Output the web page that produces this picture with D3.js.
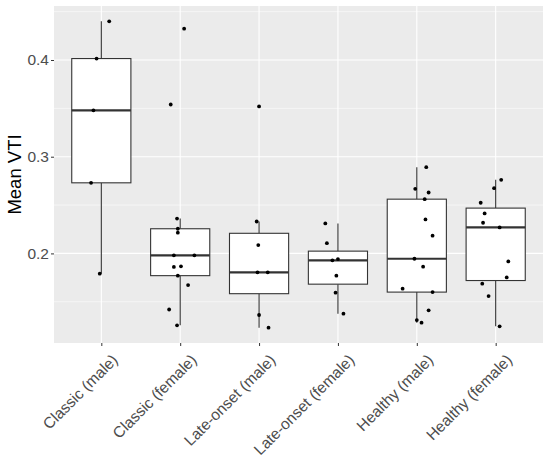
<!DOCTYPE html>
<html>
<head>
<meta charset="utf-8">
<script src="https://cdn.jsdelivr.net/npm/d3@7"></script>
<style>
  body { margin: 0; background: #fff; }
  svg { font-family: "Liberation Sans", Arial, sans-serif; }
</style>
</head>
<body>
<svg id="chart" width="550" height="459"></svg>
<script>
const categories = [
  "Classic (male)",
  "Classic (female)",
  "Late-onset (male)",
  "Late-onset (female)",
  "Healthy (male)",
  "Healthy (female)",
];

// mean VTI per subject
const classicMale = [0.44, 0.4015, 0.348, 0.273, 0.179];
const classicFemale = [0.4324, 0.354, 0.236, 0.2255, 0.2214, 0.198, 0.198, 0.186, 0.1866, 0.177, 0.1673, 0.142, 0.1256];
const lateMale = [0.352, 0.233, 0.2086, 0.1804, 0.1804, 0.1363, 0.1232];
const lateFemale = [0.231, 0.2106, 0.1928, 0.1941, 0.177, 0.1594, 0.1377];
const healthyMale = [0.2892, 0.2668, 0.263, 0.2561, 0.2351, 0.2183, 0.1945, 0.1863, 0.1635, 0.16, 0.1411, 0.1311, 0.1284];
const healthyFemale = [0.2761, 0.2675, 0.2524, 0.2413, 0.2317, 0.2269, 0.1917, 0.1752, 0.1687, 0.1559, 0.1246];

// horizontal jitter of each point (category units)
const jitterClassicMale = [0.1, -0.06, -0.1, -0.13, -0.02];
const jitterClassicFemale = [0.05, -0.12, -0.04, -0.03, -0.03, -0.08, 0.18, -0.08, 0.01, -0.03, 0.1, -0.14, -0.04];
const jitterLateMale = [0.0, -0.03, -0.01, -0.02, 0.11, 0.0, 0.12];
const jitterLateFemale = [-0.16, -0.14, -0.07, 0.0, -0.02, -0.03, 0.07];
const jitterHealthyMale = [0.12, -0.02, 0.15, 0.1, 0.11, 0.2, -0.03, 0.08, -0.18, 0.2, 0.15, 0.0, 0.06];
const jitterHealthyFemale = [0.07, -0.02, -0.19, -0.14, -0.16, 0.05, 0.16, 0.14, -0.17, -0.09, 0.05];

const yTicks = [0.2, 0.3, 0.4];
const yMinor = [0.15, 0.25, 0.35, 0.45];

const values = [classicMale, classicFemale, lateMale, lateFemale, healthyMale, healthyFemale];
const jitters = [jitterClassicMale, jitterClassicFemale, jitterLateMale, jitterLateFemale, jitterHealthyMale, jitterHealthyFemale];

const panel = { left: 54, right: 543, top: 6, bottom: 343 };
const $svg = d3.select("#chart");

// ggplot style expansion: 5% continuous, 0.6 discrete
const all = values.flat();
const ext = d3.extent(all);
const pad = (ext[1] - ext[0]) * 0.05;
const y = d3.scaleLinear().domain([ext[0] - pad, ext[1] + pad]).range([panel.bottom, panel.top]);

const step = (panel.right - panel.left) / (categories.length - 1 + 1.2);
const x = d3.scalePoint().domain(categories)
  .range([panel.left + 0.6 * step, panel.right - 0.6 * step]);

// box stats (R type 7 quantiles, 1.5 IQR whiskers)
const stats = values.map((v, i) => {
  const s = v.slice().sort(d3.ascending);
  const q1 = d3.quantile(s, 0.25), med = d3.quantile(s, 0.5), q3 = d3.quantile(s, 0.75);
  const iqr = q3 - q1;
  const inside = s.filter((d) => d >= q1 - 1.5 * iqr && d <= q3 + 1.5 * iqr);
  return { cat: categories[i], q1, med, q3, lo: d3.min(inside), hi: d3.max(inside) };
});

$svg.append("rect").attr("width", 550).attr("height", 459).attr("fill", "#fff");

// panel
$svg.append("rect")
  .attr("x", panel.left).attr("y", panel.top)
  .attr("width", panel.right - panel.left).attr("height", panel.bottom - panel.top)
  .attr("fill", "#EBEBEB");

const $grid = $svg.append("g");
$grid.selectAll(".minor").data(yMinor.filter((d) => y(d) > panel.top && y(d) < panel.bottom))
  .enter().append("line")
  .attr("x1", panel.left).attr("x2", panel.right)
  .attr("y1", (d) => y(d)).attr("y2", (d) => y(d))
  .attr("stroke", "#fff").attr("stroke-width", 0.55);
$grid.selectAll(".major").data(yTicks)
  .enter().append("line")
  .attr("x1", panel.left).attr("x2", panel.right)
  .attr("y1", (d) => y(d)).attr("y2", (d) => y(d))
  .attr("stroke", "#fff").attr("stroke-width", 1.1);
$grid.selectAll(".vmajor").data(categories)
  .enter().append("line")
  .attr("x1", (d) => x(d)).attr("x2", (d) => x(d))
  .attr("y1", panel.top).attr("y2", panel.bottom)
  .attr("stroke", "#fff").attr("stroke-width", 1.1);

// axes
const yAxis = d3.axisLeft(y).tickValues(yTicks).tickSize(3).tickPadding(2).tickFormat(d3.format(".1f"));
const $yAxis = $svg.append("g").attr("transform", `translate(${panel.left},0)`).call(yAxis);
$yAxis.select(".domain").remove();
$yAxis.selectAll("line").attr("stroke", "#333333");
$yAxis.selectAll("text").attr("fill", "#4D4D4D").style("font-size", "15.5px")
  .style("font-family", "Liberation Sans, Arial, sans-serif");

const xAxis = d3.axisBottom(x).tickSize(3).tickPadding(2);
const $xAxis = $svg.append("g").attr("transform", `translate(0,${panel.bottom})`).call(xAxis);
$xAxis.select(".domain").remove();
$xAxis.selectAll("line").attr("stroke", "#333333");
$xAxis.selectAll("text")
  .attr("fill", "#4D4D4D").style("font-size", "15.5px")
  .style("font-family", "Liberation Sans, Arial, sans-serif")
  .attr("text-anchor", "end")
  .attr("dy", null)
  .attr("y", 0)
  .attr("transform", "translate(9,10) rotate(-45)")
  .attr("dominant-baseline", "hanging");

$svg.append("text")
  .attr("transform", `translate(21,${(panel.top + panel.bottom) / 2}) rotate(-90)`)
  .attr("text-anchor", "middle")
  .style("font-size", "18.5px")
  .attr("fill", "#000")
  .text("Mean VTI");

// boxes
const bw = step * 0.75;
const $boxes = $svg.append("g").selectAll(".box").data(stats).enter().append("g");
$boxes.append("line")
  .attr("x1", (d) => x(d.cat)).attr("x2", (d) => x(d.cat))
  .attr("y1", (d) => y(d.hi)).attr("y2", (d) => y(d.q3))
  .attr("stroke", "#333333").attr("stroke-width", 1.1);
$boxes.append("line")
  .attr("x1", (d) => x(d.cat)).attr("x2", (d) => x(d.cat))
  .attr("y1", (d) => y(d.q1)).attr("y2", (d) => y(d.lo))
  .attr("stroke", "#333333").attr("stroke-width", 1.1);
$boxes.append("rect")
  .attr("x", (d) => x(d.cat) - bw / 2).attr("width", bw)
  .attr("y", (d) => y(d.q3)).attr("height", (d) => y(d.q1) - y(d.q3))
  .attr("fill", "#fff").attr("stroke", "#333333").attr("stroke-width", 1.1);
$boxes.append("line")
  .attr("x1", (d) => x(d.cat) - bw / 2).attr("x2", (d) => x(d.cat) + bw / 2)
  .attr("y1", (d) => y(d.med)).attr("y2", (d) => y(d.med))
  .attr("stroke", "#333333").attr("stroke-width", 2.2);

// points
const pts = values.flatMap((v, i) => v.map((val, j) => ({ cat: categories[i], val, jit: jitters[i][j] })));
$svg.append("g").selectAll("circle").data(pts).enter().append("circle")
  .attr("cx", (d) => x(d.cat) + d.jit * step)
  .attr("cy", (d) => y(d.val))
  .attr("r", 1.9)
  .attr("fill", "#000");
</script>
</body>
</html>
